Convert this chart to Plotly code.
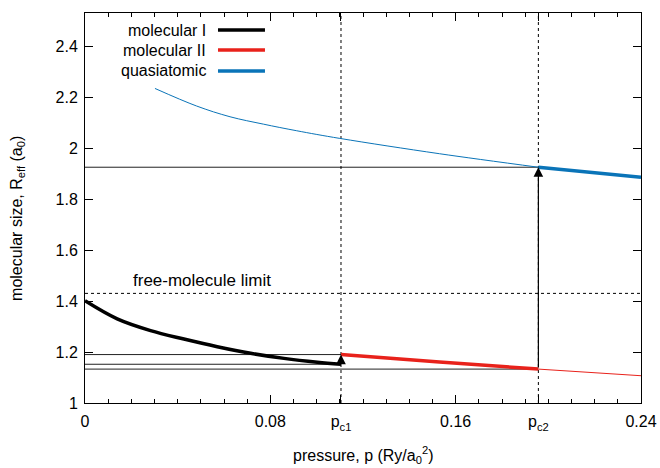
import plotly.graph_objects as go

# ---- data ----
pc1 = 0.1105
pc2 = 0.1957

p_mol1 = [0.0, 0.0139, 0.0283, 0.0427, 0.0571, 0.0715, 0.0859, 0.1003, pc1]
R_mol1 = [1.401, 1.330, 1.284, 1.251, 1.221, 1.195, 1.175, 1.160, 1.152]

p_mol2 = [pc1, 0.153, pc2]
R_mol2 = [1.190, 1.161, 1.133]
p_mol2_ext = [pc2, 0.24]
R_mol2_ext = [1.133, 1.107]

p_quasi_ext = [0.0302, 0.0482, 0.0626, 0.0770, 0.0914, 0.1100, 0.153, pc2]
R_quasi_ext = [2.234, 2.165, 2.123, 2.094, 2.068, 2.038, 1.978, 1.925]
p_quasi = [pc2, 0.24]
R_quasi = [1.925, 1.886]

free_limit = 1.43
ref_levels = [1.190, 1.152, 1.133, 1.925]
ref_ends = [pc1, pc1, pc2, pc2]

x_tickvals = [0, 0.08, pc1, 0.16, pc2, 0.24]
x_ticktext = ["0", "0.08", "p<sub>c1</sub>", "0.16", "p<sub>c2</sub>", "0.24"]
x_minor = [round(0.01 * i, 2) for i in range(1, 24) if i not in (8, 16)]
y_tickvals = [1.0, 1.2, 1.4, 1.6, 1.8, 2.0, 2.2, 2.4]
y_ticktext = ["1", "1.2", "1.4", "1.6", "1.8", "2", "2.2", "2.4"]

legend_names = ["molecular I", "molecular II", "quasiatomic"]
BLACK = "#000000"
RED = "#e8221b"
BLUE = "#0a74b8"
legend_colors = [BLACK, RED, BLUE]

FONT = "Liberation Sans, Arial, Helvetica, sans-serif"
FS = 16

fig = go.Figure()

# reference horizontal lines
for lev, end in zip(ref_levels, ref_ends):
    fig.add_trace(go.Scatter(x=[0, end], y=[lev, lev], mode="lines",
                             line=dict(color="#222222", width=1), hoverinfo="skip"))

# free-molecule limit
fig.add_trace(go.Scatter(x=[0, 0.24], y=[free_limit, free_limit], mode="lines",
                         line=dict(color=BLACK, width=1, dash="3px,3px"), hoverinfo="skip"))
# vertical dashed lines
for pc in (pc1, pc2):
    fig.add_trace(go.Scatter(x=[pc, pc], y=[1.0, 2.53], mode="lines",
                             line=dict(color=BLACK, width=1, dash="3px,3px"), hoverinfo="skip"))

# thin extensions
fig.add_trace(go.Scatter(x=p_quasi_ext, y=R_quasi_ext, mode="lines", line_shape="spline",
                         line=dict(color=BLUE, width=1)))
fig.add_trace(go.Scatter(x=p_mol2_ext, y=R_mol2_ext, mode="lines",
                         line=dict(color=RED, width=1)))

# thick branches
fig.add_trace(go.Scatter(x=p_mol1, y=R_mol1, mode="lines", line_shape="spline",
                         line=dict(color=BLACK, width=3.5), name=legend_names[0]))
fig.add_trace(go.Scatter(x=p_mol2, y=R_mol2, mode="lines", line_shape="spline",
                         line=dict(color=RED, width=3.5), name=legend_names[1]))
fig.add_trace(go.Scatter(x=p_quasi, y=R_quasi, mode="lines",
                         line=dict(color=BLUE, width=3.5), name=legend_names[2]))

# arrows (transitions)
fig.add_annotation(x=pc1, y=R_mol2[0], ax=pc1, ay=R_mol1[-1], xref="x", yref="y",
                   axref="x", ayref="y", text="", showarrow=True, arrowhead=2,
                   arrowsize=1.6, arrowwidth=1.2, arrowcolor=BLACK, standoff=0)
fig.add_annotation(x=pc2, y=R_quasi[0], ax=pc2, ay=R_mol2[-1], xref="x", yref="y",
                   axref="x", ayref="y", text="", showarrow=True, arrowhead=2,
                   arrowsize=1.6, arrowwidth=1.2, arrowcolor=BLACK, standoff=0)

# free-molecule text
fig.add_annotation(x=0.0505, y=1.482, xref="x", yref="y", text="free-molecule limit",
                   showarrow=False, font=dict(family=FONT, size=17, color=BLACK))

# manual legend (text then sample, gnuplot style)
leg_y = [0.9564, 0.9051, 0.8513]
for name, col, yy in zip(legend_names, legend_colors, leg_y):
    fig.add_annotation(x=0.2212, y=yy, xref="paper", yref="paper", text=name,
                       showarrow=False, xanchor="right", yanchor="middle",
                       font=dict(family=FONT, size=FS, color=BLACK))
    fig.add_shape(type="line", xref="paper", yref="paper", x0=0.2392, x1=0.3237,
                  y0=yy, y1=yy, line=dict(color=col, width=3.5))

# axis titles
fig.add_annotation(x=0.5, y=-0.133, xref="paper", yref="paper",
                   text="pressure, p (Ry/a<sub>0</sub><sup>2</sup>)", showarrow=False,
                   xanchor="center", yanchor="middle",
                   font=dict(family=FONT, size=FS, color=BLACK))
fig.add_annotation(x=-0.1205, y=0.472, xref="paper", yref="paper",
                   text="molecular size, R<sub>eff</sub> (a<sub>0</sub>)", showarrow=False,
                   textangle=-90, xanchor="center", yanchor="middle",
                   font=dict(family=FONT, size=FS, color=BLACK))

fig.update_layout(
    width=660, height=468,
    margin=dict(l=85, r=19, t=13, b=65),
    paper_bgcolor="white", plot_bgcolor="white",
    showlegend=False,
    font=dict(family=FONT, size=FS, color=BLACK),
    xaxis=dict(range=[0, 0.24], tickmode="array", tickvals=x_tickvals, ticktext=x_ticktext,
               ticks="inside", ticklen=8, tickwidth=1, tickcolor=BLACK,
               showline=True, linecolor=BLACK, linewidth=1, mirror="allticks",
               showgrid=False, zeroline=False, automargin=False, ticklabelstandoff=4,
               minor=dict(tickmode="array", tickvals=x_minor, ticks="inside",
                          ticklen=4, tickwidth=1, tickcolor=BLACK, showgrid=False),
               tickfont=dict(family=FONT, size=FS, color=BLACK)),
    yaxis=dict(range=[1.0, 2.53], tickmode="array", tickvals=y_tickvals, ticktext=y_ticktext,
               ticks="inside", ticklen=8, tickwidth=1, tickcolor=BLACK,
               showline=True, linecolor=BLACK, linewidth=1, mirror="allticks",
               showgrid=False, zeroline=False, automargin=False, ticklabelstandoff=3,
               tickfont=dict(family=FONT, size=FS, color=BLACK)),
)

fig.write_html("out.html")
